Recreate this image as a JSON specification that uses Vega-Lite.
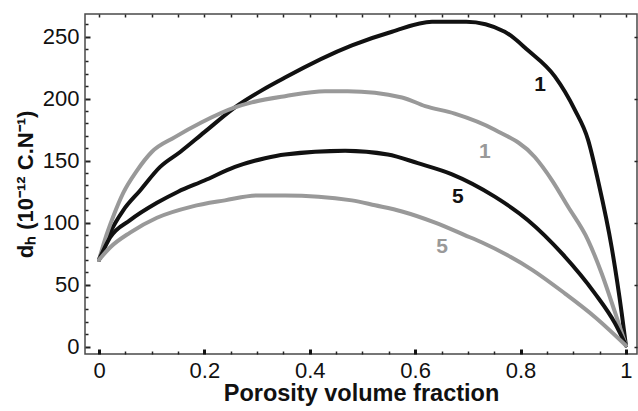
{
  "$schema": "https://vega.github.io/schema/vega-lite/v6.json",
  "autosize": {"type": "none"},
  "padding": {"left": 85, "top": 14, "right": 1, "bottom": 57},
  "width": 552,
  "height": 340,
  "background": "white",
  "config": {
    "view": {"stroke": "#4a4a4a", "strokeWidth": 1.5},
    "axis": {"domain": false, "grid": false, "labelFont": "Liberation Sans", "titleFont": "Liberation Sans", "labelColor": "#111", "titleColor": "#111"}
  },
  "datasets": {
    "curves": [
      {"s": "b1", "x": 0, "y": 70}, {"s": "b1", "x": 0.021, "y": 92}, {"s": "b1", "x": 0.046, "y": 110}, {"s": "b1", "x": 0.078, "y": 126}, {"s": "b1", "x": 0.116, "y": 145}, {"s": "b1", "x": 0.154, "y": 157}, {"s": "b1", "x": 0.2, "y": 173}, {"s": "b1", "x": 0.258, "y": 193}, {"s": "b1", "x": 0.353, "y": 217}, {"s": "b1", "x": 0.48, "y": 243}, {"s": "b1", "x": 0.556, "y": 254}, {"s": "b1", "x": 0.632, "y": 262}, {"s": "b1", "x": 0.697, "y": 262}, {"s": "b1", "x": 0.77, "y": 254}, {"s": "b1", "x": 0.814, "y": 239}, {"s": "b1", "x": 0.865, "y": 218}, {"s": "b1", "x": 0.903, "y": 191}, {"s": "b1", "x": 0.928, "y": 167}, {"s": "b1", "x": 0.947, "y": 134}, {"s": "b1", "x": 0.973, "y": 80}, {"s": "b1", "x": 0.992, "y": 27}, {"s": "b1", "x": 1, "y": 1},
      {"s": "g1", "x": 0, "y": 70}, {"s": "g1", "x": 0.011, "y": 86}, {"s": "g1", "x": 0.027, "y": 105}, {"s": "g1", "x": 0.046, "y": 124}, {"s": "g1", "x": 0.072, "y": 142}, {"s": "g1", "x": 0.1, "y": 157}, {"s": "g1", "x": 0.144, "y": 169}, {"s": "g1", "x": 0.195, "y": 181}, {"s": "g1", "x": 0.258, "y": 193}, {"s": "g1", "x": 0.29, "y": 197}, {"s": "g1", "x": 0.353, "y": 202}, {"s": "g1", "x": 0.429, "y": 206}, {"s": "g1", "x": 0.472, "y": 206}, {"s": "g1", "x": 0.575, "y": 201}, {"s": "g1", "x": 0.619, "y": 194}, {"s": "g1", "x": 0.675, "y": 188}, {"s": "g1", "x": 0.751, "y": 175}, {"s": "g1", "x": 0.827, "y": 153}, {"s": "g1", "x": 0.86, "y": 134}, {"s": "g1", "x": 0.89, "y": 113}, {"s": "g1", "x": 0.928, "y": 86}, {"s": "g1", "x": 0.954, "y": 59}, {"s": "g1", "x": 0.979, "y": 28}, {"s": "g1", "x": 1, "y": 1},
      {"s": "b5", "x": 0, "y": 70}, {"s": "b5", "x": 0.021, "y": 88}, {"s": "b5", "x": 0.059, "y": 102}, {"s": "b5", "x": 0.11, "y": 116}, {"s": "b5", "x": 0.15, "y": 125}, {"s": "b5", "x": 0.2, "y": 134}, {"s": "b5", "x": 0.258, "y": 145}, {"s": "b5", "x": 0.315, "y": 152}, {"s": "b5", "x": 0.353, "y": 155}, {"s": "b5", "x": 0.467, "y": 158}, {"s": "b5", "x": 0.548, "y": 155}, {"s": "b5", "x": 0.605, "y": 148}, {"s": "b5", "x": 0.67, "y": 139}, {"s": "b5", "x": 0.751, "y": 121}, {"s": "b5", "x": 0.814, "y": 102}, {"s": "b5", "x": 0.879, "y": 75}, {"s": "b5", "x": 0.941, "y": 43}, {"s": "b5", "x": 0.979, "y": 19}, {"s": "b5", "x": 1, "y": 1},
      {"s": "g5", "x": 0, "y": 70}, {"s": "g5", "x": 0.021, "y": 80}, {"s": "g5", "x": 0.059, "y": 92}, {"s": "g5", "x": 0.11, "y": 104}, {"s": "g5", "x": 0.176, "y": 113}, {"s": "g5", "x": 0.239, "y": 118}, {"s": "g5", "x": 0.3, "y": 122}, {"s": "g5", "x": 0.353, "y": 122}, {"s": "g5", "x": 0.48, "y": 118}, {"s": "g5", "x": 0.524, "y": 114}, {"s": "g5", "x": 0.575, "y": 109}, {"s": "g5", "x": 0.638, "y": 100}, {"s": "g5", "x": 0.694, "y": 90}, {"s": "g5", "x": 0.727, "y": 84}, {"s": "g5", "x": 0.822, "y": 62}, {"s": "g5", "x": 0.884, "y": 43}, {"s": "g5", "x": 0.941, "y": 24}, {"s": "g5", "x": 1, "y": 1}
    ],
    "labels": [
      {"s": "b1", "x": 0.837, "y": 211, "t": "1"},
      {"s": "g1", "x": 0.732, "y": 157, "t": "1"},
      {"s": "b5", "x": 0.681, "y": 121, "t": "5"},
      {"s": "g5", "x": 0.651, "y": 80, "t": "5"}
    ]
  },
  "resolve": {"axis": {"x": "independent", "y": "independent"}},
  "layer": [
    {
      "data": {"name": "curves"},
      "mark": {"type": "line", "strokeWidth": 4, "strokeJoin": "round", "strokeCap": "round", "interpolate": "monotone"},
      "encoding": {
        "x": {"field": "x", "type": "quantitative", "scale": {"domain": [-0.0266, 1.021], "nice": false, "zero": false},
          "axis": {"orient": "bottom", "values": [0, 0.2, 0.4, 0.6, 0.8, 1], "format": "~g", "ticks": false, "labelPadding": 6, "labelFontSize": 22, "title": "Porosity volume fraction", "titleFontSize": 23.5, "titleFontWeight": "bold", "titlePadding": 0}},
        "y": {"field": "y", "type": "quantitative", "scale": {"domain": [-5.9, 268.3], "nice": false, "zero": false},
          "axis": {"orient": "left", "values": [0, 50, 100, 150, 200, 250], "ticks": false, "labelPadding": 6, "labelFontSize": 22, "title": "dₕ (10⁻¹² C.N⁻¹)", "titleFontSize": 22, "titleFontWeight": "bold", "titlePadding": 5}},
        "color": {"field": "s", "type": "nominal", "scale": {"domain": ["b1", "g1", "b5", "g5"], "range": ["#111111", "#999999", "#111111", "#999999"]}, "legend": null},
        "detail": {"field": "s"}
      }
    },
    {
      "data": {"name": "curves"},
      "mark": {"type": "point", "opacity": 0},
      "encoding": {
        "x": {"field": "x", "type": "quantitative", "axis": {"orient": "bottom", "values": [0, 0.2, 0.4, 0.6, 0.8, 1], "labels": false, "title": null, "tickSize": -5, "tickWidth": 3, "tickColor": "#111", "zindex": 5}},
        "y": {"field": "y", "type": "quantitative", "axis": {"orient": "left", "values": [0, 50, 100, 150, 200, 250], "labels": false, "title": null, "tickSize": -5, "tickWidth": 2, "tickColor": "#222", "zindex": 5}}
      }
    },
    {
      "data": {"name": "curves"},
      "mark": {"type": "point", "opacity": 0},
      "encoding": {
        "x": {"field": "x", "type": "quantitative", "axis": {"orient": "bottom", "values": [0.05, 0.1, 0.15, 0.25, 0.3, 0.35, 0.45, 0.5, 0.55, 0.65, 0.7, 0.75, 0.85, 0.9, 0.95], "labels": false, "title": null, "tickSize": -3, "tickWidth": 1.5, "tickColor": "#222", "zindex": 5}},
        "y": {"field": "y", "type": "quantitative", "axis": {"orient": "left", "values": [10, 20, 30, 40, 60, 70, 80, 90, 110, 120, 130, 140, 160, 170, 180, 190, 210, 220, 230, 240, 260], "labels": false, "title": null, "tickSize": -3, "tickWidth": 1.5, "tickColor": "#222", "zindex": 5}}
      }
    },
    {
      "data": {"name": "curves"},
      "mark": {"type": "point", "opacity": 0},
      "encoding": {
        "x": {"field": "x", "type": "quantitative", "axis": {"orient": "top", "values": [0, 0.05, 0.1, 0.15, 0.2, 0.25, 0.3, 0.35, 0.4, 0.45, 0.5, 0.55, 0.6, 0.65, 0.7, 0.75, 0.8, 0.85, 0.9, 0.95, 1], "labels": false, "title": null, "tickSize": -3, "tickWidth": 1.5, "tickColor": "#222", "zindex": 5}},
        "y": {"field": "y", "type": "quantitative", "axis": {"orient": "right", "values": [0, 50, 100, 150, 200, 250], "labels": false, "title": null, "tickSize": -3, "tickWidth": 1.5, "tickColor": "#222", "zindex": 5}}
      }
    },
    {
      "data": {"name": "labels"},
      "mark": {"type": "text", "font": "Liberation Sans", "fontWeight": "bold", "fontSize": 21},
      "encoding": {
        "x": {"field": "x", "type": "quantitative", "axis": null},
        "y": {"field": "y", "type": "quantitative", "axis": null},
        "text": {"field": "t"},
        "color": {"field": "s", "type": "nominal", "legend": null}
      }
    }
  ]
}
